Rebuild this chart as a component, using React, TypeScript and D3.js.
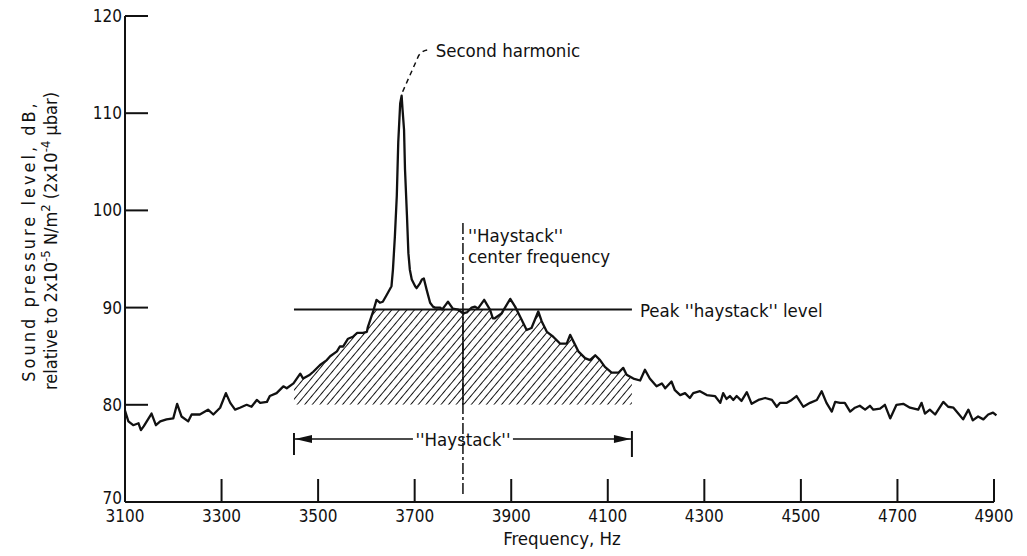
import React from "react";
import * as d3 from "d3";

const frequencyHz = [
  3100, 3107, 3117, 3128, 3133, 3139, 3155, 3164, 3173, 3186, 3200, 3208, 3217, 3231, 3238, 3255,
  3272, 3283, 3297, 3309, 3318, 3328, 3338, 3352, 3362, 3373, 3380, 3394, 3400, 3414, 3428, 3435,
  3449, 3463, 3469, 3483, 3490, 3504, 3518, 3525, 3539, 3545, 3552, 3562, 3572, 3581, 3593, 3601,
  3603, 3614, 3621, 3628, 3634, 3642, 3652, 3655, 3659, 3663, 3666, 3670, 3673, 3675, 3678, 3680,
  3684, 3687, 3690, 3694, 3701, 3704, 3711, 3715, 3719, 3725, 3732, 3738, 3742, 3753, 3757, 3763,
  3769, 3779, 3790, 3800, 3808, 3818, 3825, 3831, 3844, 3856, 3862, 3866, 3880, 3898, 3908, 3918,
  3932, 3942, 3956, 3963, 3974, 3987, 4001, 4015, 4022, 4029, 4039, 4053, 4063, 4074, 4084, 4094,
  4108, 4122, 4132, 4139, 4153, 4167, 4177, 4187, 4201, 4212, 4219, 4232, 4239, 4250, 4260, 4270,
  4277, 4291, 4305, 4322, 4333, 4339, 4346, 4353, 4360, 4367, 4377, 4388, 4398, 4412, 4426, 4440,
  4450, 4457, 4471, 4481, 4491, 4505, 4519, 4533, 4543, 4553, 4564, 4571, 4581, 4591, 4602, 4612,
  4622, 4633, 4643, 4650, 4664, 4674, 4685, 4698, 4712, 4726, 4743, 4750, 4757, 4767, 4778, 4795,
  4805, 4816, 4826, 4836, 4847, 4856, 4867, 4878, 4888, 4898, 4905,
];

const levelDb = [
  79.4, 78.3, 77.9, 78.1, 77.4, 77.8, 79.1, 77.9, 78.3, 78.5, 78.6, 80.1, 78.8, 78.3, 79.0, 79.0,
  79.5, 79.0, 79.7, 81.2, 80.2, 79.5, 79.7, 80.0, 79.8, 80.5, 80.2, 80.3, 80.9, 81.2, 81.9, 81.7,
  82.2, 83.2, 82.7, 83.1, 83.4, 84.1, 84.6, 85.0, 85.5, 86.0, 86.0, 86.8, 87.0, 87.4, 87.4, 87.5,
  88.0, 89.6, 90.8, 90.5, 90.6, 91.3, 92.2, 93.9, 97.3, 101.5, 107.0, 111.0, 111.8, 110.3, 108.3, 104.2,
  99.5, 95.6, 93.9, 92.9, 92.2, 92.0, 92.5, 92.9, 93.0, 91.8, 90.5, 90.1, 90.0, 90.0, 89.8, 90.2,
  90.6, 89.9, 89.8, 89.4, 89.5, 90.0, 90.1, 89.9, 90.8, 89.8, 88.9, 88.9, 89.4, 90.9, 90.1, 89.1,
  87.7, 87.9, 89.6, 88.6, 87.5, 87.0, 86.3, 86.3, 87.2, 86.5, 85.5, 84.8, 84.6, 85.1, 84.6, 83.9,
  83.3, 83.3, 83.8, 83.1, 82.7, 82.5, 83.6, 82.7, 81.9, 82.2, 81.7, 82.4, 81.5, 81.0, 81.2, 80.7,
  81.2, 81.4, 81.0, 80.9, 80.2, 81.2, 80.6, 80.9, 80.5, 80.9, 80.4, 81.3, 80.1, 80.5, 80.7, 80.5,
  79.8, 80.2, 80.2, 80.5, 80.9, 79.8, 80.2, 80.5, 81.4, 80.2, 79.3, 80.3, 80.2, 80.2, 79.3, 79.7,
  79.9, 79.5, 79.9, 79.5, 79.6, 80.0, 78.6, 80.0, 80.1, 79.7, 79.5, 80.2, 79.1, 79.5, 79.0, 80.3,
  79.8, 79.7, 79.1, 78.5, 79.5, 78.4, 78.8, 78.5, 79.0, 79.2, 78.9,
];

const xTicks = [3100, 3300, 3500, 3700, 3900, 4100, 4300, 4500, 4700, 4900];
const yTicks = [70, 80, 90, 100, 110, 120];

const haystackStart = 3450;
const haystackEnd = 4150;
const haystackCenter = 3800;
const haystackPeak = 89.8;
const haystackBase = 80;
const harmonicFreq = 3673;
const harmonicLevel = 111.8;

const FONT = "'Liberation Sans Narrow', 'DejaVu Sans Condensed', 'Liberation Sans', sans-serif";

export default function App() {
  const width = 1027;
  const height = 556;
  const x = d3.scaleLinear().domain([3100, 4900]).range([125, 994]);
  const y = d3.scaleLinear().domain([70, 120]).range([502, 16]);

  const data = frequencyHz.map((f, i) => ({ f, v: levelDb[i] }));
  const line = d3
    .line<{ f: number; v: number }>()
    .x((d) => x(d.f))
    .y((d) => y(d.v));
  const area = d3
    .area<{ f: number; v: number }>()
    .x((d) => x(d.f))
    .y0(y(haystackBase))
    .y1((d) => y(Math.min(d.v, haystackPeak)));

  const x0 = x.range()[0];
  const y0 = y.range()[0];
  const hx0 = x(haystackStart);
  const hx1 = x(haystackEnd);
  const cx = x(haystackCenter);
  const py = y(haystackPeak);
  const px = x(harmonicFreq);
  const ppy = y(harmonicLevel);
  const arrowY = 439;

  const textStyle: React.CSSProperties = { fontFamily: FONT, fontSize: 18.5 };
  const tickStyle: React.CSSProperties = { fontFamily: FONT, fontSize: 17 };

  return (
    <svg width={width} height={height} style={{ position: "absolute", left: 0, top: 0, background: "#fff" }}>
      <defs>
        <pattern id="hatch" patternUnits="userSpaceOnUse" width="5.8" height="10" patternTransform="rotate(40)">
          <line x1="0" y1="-2" x2="0" y2="12" stroke="#000" strokeWidth="1.8" />
        </pattern>
        <clipPath id="hayClip">
          <rect x={hx0} y={0} width={hx1 - hx0} height={y(haystackBase)} />
        </clipPath>
      </defs>

      {/* hatch */}
      <path d={area(data) || ""} fill="url(#hatch)" clipPath="url(#hayClip)" />

      {/* axes */}
      <line x1={x0} y1={y(120)} x2={x0} y2={y0} stroke="#111" strokeWidth={2} />
      <line x1={x0} y1={y0} x2={x(4900)} y2={y0} stroke="#111" strokeWidth={2} />
      {yTicks.map((t) => (
        <g key={"y" + t}>
          <line x1={x0} x2={x0 + 23} y1={y(t)} y2={y(t)} stroke="#111" strokeWidth={2} />
          <text x={x0 - 3} y={y(t) + (t === 70 ? 2 : 6)} textAnchor="end" style={tickStyle} fill="#111">
            {t}
          </text>
        </g>
      ))}
      {xTicks.map((t) => (
        <g key={"x" + t}>
          <line x1={x(t)} x2={x(t)} y1={y0} y2={y0 - 23} stroke="#111" strokeWidth={2} />
          <text x={x(t)} y={y0 + 20} textAnchor="middle" style={tickStyle} fill="#111">
            {t}
          </text>
        </g>
      ))}
      <text x={562} y={545} textAnchor="middle" style={textStyle} fill="#111">
        Frequency, Hz
      </text>

      {/* y label */}
      <g transform="translate(35,241) rotate(-90)">
        <text x={0} y={0} textAnchor="middle" style={{ fontFamily: FONT, fontSize: 18, letterSpacing: 3 }} fill="#111">
          Sound pressure level, dB,
        </text>
        <text x={0} y={22} textAnchor="middle" style={{ fontFamily: FONT, fontSize: 18 }} fill="#111">
          relative to 2x10
          <tspan dy={-7} style={{ fontSize: 13 }}>-5</tspan>
          <tspan dy={7}> N/m</tspan>
          <tspan dy={-7} style={{ fontSize: 13 }}>2</tspan>
          <tspan dy={7}> (2x10</tspan>
          <tspan dy={-7} style={{ fontSize: 13 }}>-4</tspan>
          <tspan dy={7}> μbar)</tspan>
        </text>
      </g>

      {/* peak haystack level */}
      <line x1={hx0} x2={hx1} y1={py} y2={py} stroke="#111" strokeWidth={2} />
      <text x={hx1 + 8} y={py + 7} style={textStyle} fill="#111">
        Peak ''haystack'' level
      </text>

      {/* center line */}
      <line x1={cx} x2={cx} y1={223} y2={494} stroke="#111" strokeWidth={1.5} strokeDasharray="11,3,3,3" />
      <line x1={cx} x2={cx} y1={py} y2={y(haystackBase)} stroke="#111" strokeWidth={1.5} />
      <text x={cx + 5} y={242} style={textStyle} fill="#111">
        ''Haystack''
      </text>
      <text x={cx + 5} y={263} style={textStyle} fill="#111">
        center frequency
      </text>

      {/* haystack width arrow */}
      <line x1={hx0} x2={hx0} y1={arrowY - 6} y2={arrowY + 16} stroke="#111" strokeWidth={2} />
      <line x1={hx1} x2={hx1} y1={arrowY - 8} y2={arrowY + 18} stroke="#111" strokeWidth={2} />
      <line x1={hx0} x2={cx - 50} y1={arrowY} y2={arrowY} stroke="#111" strokeWidth={1.5} />
      <line x1={cx + 50} x2={hx1} y1={arrowY} y2={arrowY} stroke="#111" strokeWidth={1.5} />
      <path d={`M${hx0 + 1},${arrowY} L${hx0 + 18},${arrowY - 4} L${hx0 + 18},${arrowY + 4} Z`} fill="#111" />
      <path d={`M${hx1 - 1},${arrowY} L${hx1 - 18},${arrowY - 4} L${hx1 - 18},${arrowY + 4} Z`} fill="#111" />
      <text x={cx} y={arrowY + 7} textAnchor="middle" style={textStyle} fill="#111">
        ''Haystack''
      </text>

      {/* second harmonic */}
      <path
        d={`M${px + 1},${ppy - 4} L${px + 17},${ppy - 40} Q${px + 21},${ppy - 46} ${px + 28},${ppy - 46}`}
        fill="none"
        stroke="#111"
        strokeWidth={1.5}
        strokeDasharray="5,4"
      />
      <text x={px + 34} y={57} style={textStyle} fill="#111">
        Second harmonic
      </text>

      {/* spectrum */}
      <path d={line(data) || ""} fill="none" stroke="#111" strokeWidth={2.3} strokeLinejoin="round" />
    </svg>
  );
}
